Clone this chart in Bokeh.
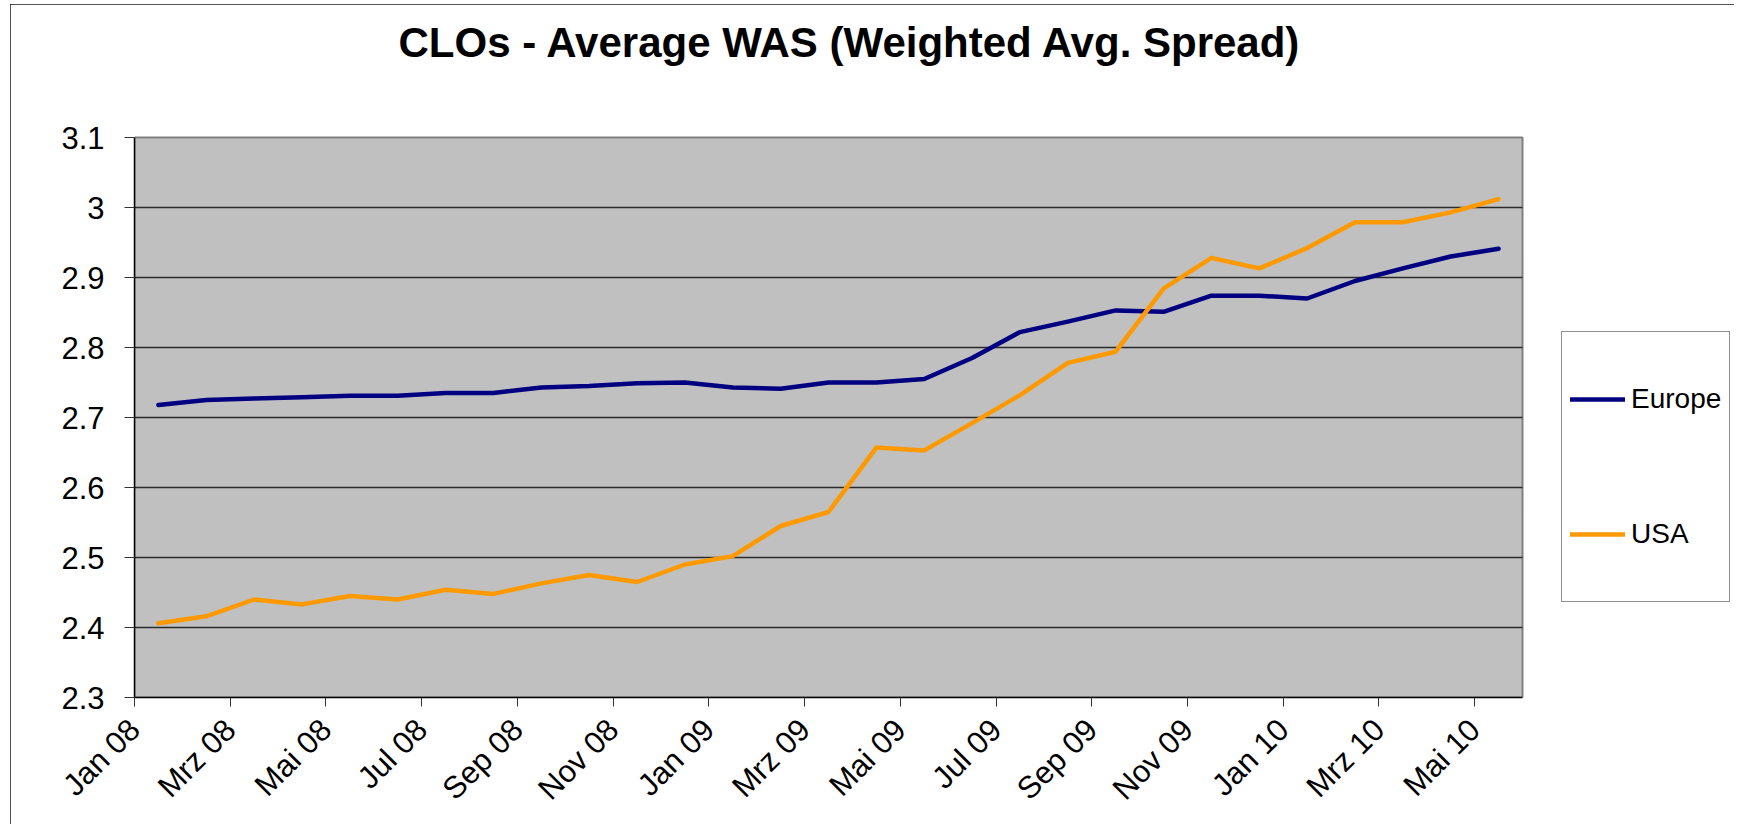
import math
from bokeh.plotting import figure
from bokeh.models import FixedTicker, Legend, LegendItem, Label
from bokeh.embed import file_html
from bokeh.resources import INLINE

# ---- data -------------------------------------------------------------
months = ["Jan 08", "Feb 08", "Mrz 08", "Apr 08", "Mai 08", "Jun 08",
          "Jul 08", "Aug 08", "Sep 08", "Okt 08", "Nov 08", "Dez 08",
          "Jan 09", "Feb 09", "Mrz 09", "Apr 09", "Mai 09", "Jun 09",
          "Jul 09", "Aug 09", "Sep 09", "Okt 09", "Nov 09", "Dez 09",
          "Jan 10", "Feb 10", "Mrz 10", "Apr 10", "Mai 10"]

europe = [2.718, 2.725, 2.727, 2.729, 2.731, 2.731, 2.735, 2.735, 2.743, 2.745,
          2.749, 2.750, 2.743, 2.741, 2.750, 2.750, 2.755, 2.785, 2.822, 2.837,
          2.853, 2.851, 2.874, 2.874, 2.870, 2.895, 2.913, 2.930, 2.941]

usa = [2.406, 2.416, 2.440, 2.433, 2.445, 2.440, 2.454, 2.448, 2.463, 2.475,
       2.465, 2.490, 2.502, 2.545, 2.565, 2.657, 2.653, 2.692, 2.732, 2.778,
       2.794, 2.884, 2.928, 2.913, 2.942, 2.979, 2.979, 2.993, 3.012]

y_ticks = [2.3, 2.4, 2.5, 2.6, 2.7, 2.8, 2.9, 3.0, 3.1]
y_tick_labels = ["2.3", "2.4", "2.5", "2.6", "2.7", "2.8", "2.9", "3", "3.1"]

series_names = ["Europe", "USA"]
series_colors = ["#000080", "#FF9900"]
title_text = "CLOs - Average WAS (Weighted Avg. Spread)"

# ---- layout constants (pixels) ---------------------------------------
FONT = "Liberation Sans"
n = len(months)
FIG_W, FIG_H = 1724, 822
BORDER_L, BORDER_R, BORDER_T, BORDER_B = 124, 4, 8, 129
FRAME_W = FIG_W - BORDER_L - BORDER_R
FRAME_H = FIG_H - BORDER_T - BORDER_B
PLOT_W = 1388          # width of the grey plot area
PLOT_H = 560           # height of the grey plot area
px_x = PLOT_W / n                              # pixels per month
px_y = PLOT_H / (y_ticks[-1] - y_ticks[0])     # pixels per value unit
x_end = FRAME_W / px_x
y_end = y_ticks[0] + FRAME_H / px_y

xs = [i + 0.5 for i in range(n)]           # each point in the middle of its month

p = figure(width=FIG_W, height=FIG_H, output_backend="svg", toolbar_location=None,
           x_range=(0, x_end), y_range=(y_ticks[0], y_end),
           min_border_left=BORDER_L, min_border_right=BORDER_R,
           min_border_top=BORDER_T, min_border_bottom=BORDER_B)

p.styles = {"position": "absolute", "left": "10px", "top": "4px",
            "outline": "2px solid #1a1a1a", "outline-offset": "-2px",
            "clip-path": "inset(0px 0px 2px 0px)"}

p.background_fill_color = "white"
p.border_fill_color = "white"
p.outline_line_color = None
p.xgrid.visible = False
p.ygrid.visible = False

# grey plot area with its grey border
p.quad(left=0, right=n, bottom=y_ticks[0], top=y_ticks[-1],
       fill_color="#C0C0C0", line_color="#808080", line_width=2)

# horizontal gridlines
p.segment(x0=[0] * (len(y_ticks) - 2), x1=[n] * (len(y_ticks) - 2),
          y0=y_ticks[1:-1], y1=y_ticks[1:-1],
          line_color="#2a2a2a", line_width=1.5)

# title
p.add_layout(Label(x=(850 - 134) / px_x, y=y_ticks[0] + (697 - 42) / px_y,
                   text=title_text, text_align="center", text_baseline="middle",
                   text_font=FONT, text_font_size="42px", text_font_style="bold",
                   text_color="black"))

# y axis
p.yaxis.bounds = (y_ticks[0], y_ticks[-1])
p.yaxis.ticker = FixedTicker(ticks=y_ticks)
p.yaxis.major_label_overrides = {t: l for t, l in zip(y_ticks, y_tick_labels)}
p.yaxis.minor_tick_line_color = None
p.yaxis.major_tick_out = 10
p.yaxis.major_tick_in = 0
p.yaxis.major_tick_line_color = "#333333"
p.yaxis.axis_line_color = "black"
p.yaxis.axis_line_width = 1.5
p.yaxis.major_label_text_font = FONT
p.yaxis.major_label_text_font_size = "31px"
p.yaxis.major_label_text_color = "black"
p.yaxis.major_label_standoff = 20

# x axis
x_tick_pos = list(range(0, n, 2))
p.xaxis.bounds = (0, n)
p.xaxis.ticker = FixedTicker(ticks=x_tick_pos)
p.xaxis.major_label_overrides = {i: months[i] for i in x_tick_pos}
p.xaxis.minor_tick_line_color = None
p.xaxis.major_tick_out = 9
p.xaxis.major_tick_in = 0
p.xaxis.major_tick_line_color = "#333333"
p.xaxis.axis_line_color = "black"
p.xaxis.axis_line_width = 1.5
p.xaxis.major_label_text_font = FONT
p.xaxis.major_label_text_font_size = "31px"
p.xaxis.major_label_text_color = "black"
p.xaxis.major_label_orientation = math.pi / 4
p.xaxis.major_label_standoff = 18

# lines
renderers = []
for vals, color in zip([europe, usa], series_colors):
    r = p.line(xs, vals, line_color=color, line_width=4.5, line_join="round",
               line_cap="round")
    renderers.append(r)

legend = Legend(items=[LegendItem(label=nm, renderers=[r])
                       for nm, r in zip(series_names, renderers)],
                location=(1561 - 134, 95), orientation="vertical",
                glyph_width=55, glyph_height=118, label_standoff=6,
                padding=8, spacing=17, margin=0,
                label_text_font=FONT, label_text_font_size="28px",
                label_text_color="black",
                border_line_color="#222222", border_line_width=1.5,
                background_fill_color="white", background_fill_alpha=1.0)
p.add_layout(legend, "center")

open("out.html", "w").write(file_html(p, INLINE))
